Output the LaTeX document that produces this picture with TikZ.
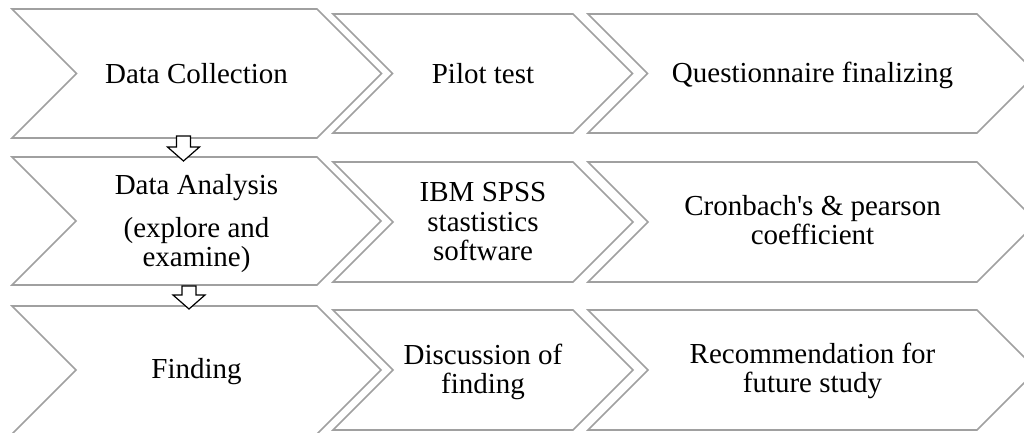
\documentclass[tikz,border=0pt]{standalone}
\usepackage{fontspec}
\setmainfont{Liberation Serif}
\usetikzlibrary{calc}
\definecolor{chevgray}{RGB}{160,160,160}
\tikzset{
  chevbox/.style={draw=chevgray, line width=1.6pt, fill=white, line join=miter},
  steptext/.style={font=\fontsize{29}{29.5}\selectfont, align=center, inner sep=0pt, text=black},
  blockarr/.style={draw=black, line width=1.2pt, fill=white, line join=miter}
}
% #1 left x, #2 top y, #3 body width, #4 half height
\newcommand\mychevron[4]{%
  \draw[chevbox] (#1,#2) -- ++(#3,0) -- ++(#4,#4) -- ++(-#4,#4) -- ++(-#3,0) -- ++(#4,-#4) -- cycle;}
\newcommand\myblockarrow[2]{%
  \draw[blockarr] let \p1=(#1), \p2=(#2) in
    (\x1-7pt,\y1) -- (\x1+7pt,\y1) -- (\x1+7pt,\y2+14pt) -- (\x1+16pt,\y2+14pt)
    -- (\x2,\y2) -- (\x1-16pt,\y2+14pt) -- (\x1-7pt,\y2+14pt) -- cycle;}
\begin{document}
\begin{tikzpicture}[x=1pt, y=-1pt]
\clip (0,0) rectangle (1024,432);
\fill[white] (0,0) rectangle (1024,432);
% row 1
\mychevron{12}{9}{305}{64.5}
\mychevron{333}{14}{240}{59.5}
\mychevron{588}{14}{389}{59.5}
% row 2
\mychevron{12}{157}{305}{64}
\mychevron{333}{162}{240}{60}
\mychevron{588}{162}{389}{60}
% row 3
\mychevron{12}{306}{305}{64}
\mychevron{333}{310}{240}{60}
\mychevron{588}{310}{389}{60}

\node[steptext] (n11) at (196.5,73.5) {Data Collection};
\node[steptext] (n12) at (483,74) {Pilot test};
\node[steptext] (n13) at (812.5,75.5) {Questionnaire finalizing};

\node[steptext] (n21) at (196.5,224) {Data Analysis\\[13pt](explore and\\examine)};
\node[steptext] (n22) at (483,222) {IBM SPSS\\stastistics\\software};
\node[steptext] (n23) at (812.5,220) {Cronbach\textquotesingle s \& pearson\\coefficient};

\node[steptext] (n31) at (196.5,372) {Finding};
\node[steptext] (n32) at (483,372) {Discussion of\\finding};
\node[steptext] (n33) at (812.5,371) {Recommendation for\\future study};

\coordinate (a1s) at (183.5,136);
\coordinate (a1e) at (183.5,161);
\coordinate (a2s) at (189,286);
\coordinate (a2e) at (189,309);
\myblockarrow{a1s}{a1e}
\myblockarrow{a2s}{a2e}
\end{tikzpicture}
\end{document}
